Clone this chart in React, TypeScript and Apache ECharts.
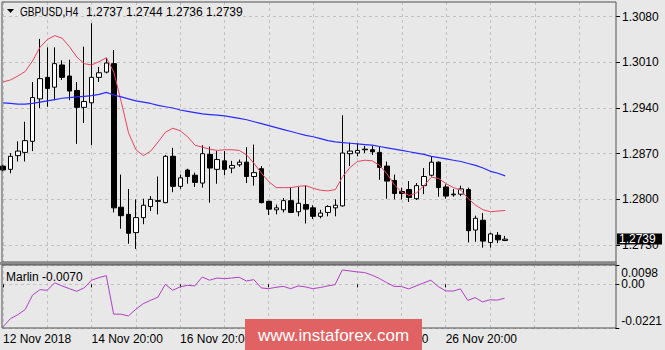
import React, { useEffect, useRef } from "react";
import * as echarts from "echarts";

const symbolName = "GBPUSD,H4";
const slotCount = 84; // visible bar slots incl. right shift
const xTickLabels = ["12 Nov 2018", "14 Nov 20:00", "16 Nov 20:00", "20 Nov 20:00", "22 Nov 20:00", "26 Nov 20:00"];
const labelEvery = 12;
const gridEvery = 6;

const opens = [1.2851, 1.2846, 1.2867, 1.2872, 1.2889, 1.2954, 1.2987, 1.2972, 1.3006, 1.2989, 1.2967, 1.2941, 1.2948, 1.2987, 1.2995, 1.3008, 1.2788, 1.2777, 1.2749, 1.2772, 1.2789, 1.2798, 1.2795, 1.2866, 1.2820, 1.2845, 1.2837, 1.2825, 1.2869, 1.2846, 1.2859, 1.2848, 1.2853, 1.2857, 1.2835, 1.2847, 1.2797, 1.2784, 1.2784, 1.2798, 1.2781, 1.2792, 1.2787, 1.2774, 1.2780, 1.2787, 1.2790, 1.2870, 1.2871, 1.2877, 1.2876, 1.2872, 1.2851, 1.2829, 1.2812, 1.2815, 1.2801, 1.2821, 1.2837, 1.2857, 1.2819, 1.2808, 1.2808, 1.2815, 1.2753, 1.2768, 1.2734, 1.2745, 1.2737];
const highs = [1.2853, 1.2871, 1.2889, 1.2919, 1.2980, 1.3046, 1.3033, 1.3033, 1.3013, 1.3014, 1.2980, 1.3034, 1.3070, 1.3003, 1.3017, 1.3029, 1.2838, 1.2816, 1.2800, 1.2801, 1.2805, 1.2835, 1.2868, 1.2879, 1.2838, 1.2847, 1.2841, 1.2883, 1.2881, 1.2874, 1.2874, 1.2859, 1.2861, 1.2880, 1.2884, 1.2851, 1.2798, 1.2792, 1.2802, 1.2819, 1.2819, 1.2821, 1.2791, 1.2784, 1.2791, 1.2800, 1.2929, 1.2887, 1.2886, 1.2882, 1.2882, 1.2881, 1.2858, 1.2838, 1.2818, 1.2828, 1.2825, 1.2848, 1.2865, 1.2858, 1.2823, 1.2816, 1.2821, 1.2818, 1.2775, 1.2779, 1.2749, 1.2750, 1.2744];
const lows = [1.2843, 1.2840, 1.2858, 1.2858, 1.2874, 1.2940, 1.2942, 1.2952, 1.2983, 1.2952, 1.2885, 1.2917, 1.2883, 1.2980, 1.2993, 1.2780, 1.2755, 1.2732, 1.2724, 1.2762, 1.2782, 1.2777, 1.2794, 1.2811, 1.2816, 1.2824, 1.2819, 1.2818, 1.2795, 1.2824, 1.2837, 1.2840, 1.2850, 1.2825, 1.2821, 1.2794, 1.2776, 1.2777, 1.2780, 1.2779, 1.2774, 1.2763, 1.2770, 1.2771, 1.2774, 1.2774, 1.2789, 1.2851, 1.2866, 1.2871, 1.2868, 1.2830, 1.2801, 1.2800, 1.2800, 1.2796, 1.2799, 1.2808, 1.2835, 1.2804, 1.2801, 1.2804, 1.2805, 1.2734, 1.2735, 1.2726, 1.2726, 1.2733, 1.2736];
const closes = [1.2845, 1.2866, 1.2874, 1.2890, 1.2956, 1.2985, 1.2970, 1.3008, 1.2987, 1.2966, 1.2941, 1.2950, 1.2987, 1.2994, 1.3009, 1.2787, 1.2775, 1.2748, 1.2772, 1.2791, 1.2800, 1.2797, 1.2866, 1.2820, 1.2833, 1.2835, 1.2826, 1.2870, 1.2848, 1.2861, 1.2846, 1.2852, 1.2857, 1.2835, 1.2841, 1.2795, 1.2785, 1.2787, 1.2798, 1.2780, 1.2794, 1.2785, 1.2774, 1.2779, 1.2789, 1.2791, 1.2871, 1.2874, 1.2875, 1.2876, 1.2873, 1.2849, 1.2828, 1.2809, 1.2809, 1.2803, 1.2821, 1.2835, 1.2857, 1.2818, 1.2805, 1.2807, 1.2816, 1.2752, 1.2771, 1.2736, 1.2747, 1.2738, 1.2739];

const maRed = [1.2980, 1.2983, 1.2989, 1.2996, 1.3012, 1.3033, 1.3045, 1.3051, 1.3047, 1.3034, 1.3018, 1.3008, 1.3006, 1.3011, 1.3017, 1.2995, 1.2950, 1.2902, 1.2876, 1.2867, 1.2874, 1.2888, 1.2903, 1.2909, 1.2905, 1.2896, 1.2883, 1.2880, 1.2877, 1.2875, 1.2876, 1.2876, 1.2875, 1.2868, 1.2855, 1.2840, 1.2827, 1.2818, 1.2818, 1.2818, 1.2820, 1.2821, 1.2817, 1.2814, 1.2813, 1.2815, 1.2835, 1.2849, 1.2858, 1.2860, 1.2859, 1.2852, 1.2839, 1.2822, 1.2811, 1.2806, 1.2810, 1.2821, 1.2834, 1.2832, 1.2824, 1.2818, 1.2814, 1.2801, 1.2791, 1.2784, 1.2781, 1.2782, 1.2783];
const maBlue = [1.2948, 1.2947, 1.2946, 1.2946, 1.2947, 1.2949, 1.2951, 1.2953, 1.2955, 1.2956, 1.2957, 1.2958, 1.2959, 1.2961, 1.2964, 1.2960, 1.2957, 1.2954, 1.2951, 1.2949, 1.2947, 1.2944, 1.2942, 1.2940, 1.2937, 1.2935, 1.2933, 1.2931, 1.2930, 1.2929, 1.2928, 1.2926, 1.2924, 1.2922, 1.2919, 1.2916, 1.2913, 1.2910, 1.2907, 1.2904, 1.2901, 1.2898, 1.2896, 1.2893, 1.2890, 1.2888, 1.2887, 1.2886, 1.2885, 1.2884, 1.2883, 1.2881, 1.2879, 1.2877, 1.2875, 1.2873, 1.2871, 1.2869, 1.2866, 1.2864, 1.2862, 1.2860, 1.2858, 1.2855, 1.2852, 1.2848, 1.2843, 1.2840, 1.2836];
const marlin = [-0.0215, -0.0174, -0.0154, -0.0128, -0.0055, -0.0027, -0.0030, 0.0008, -0.0008, -0.0022, -0.0035, -0.0018, 0.0021, 0.0034, 0.0044, -0.0151, -0.0151, -0.0160, -0.0126, -0.0098, -0.0081, -0.0065, 0.0000, -0.0030, -0.0013, -0.0005, -0.0008, 0.0037, 0.0021, 0.0032, 0.0029, 0.0032, 0.0036, 0.0017, 0.0024, -0.0018, -0.0022, -0.0015, -0.0010, -0.0022, -0.0008, -0.0013, -0.0022, -0.0016, -0.0008, -0.0002, 0.0073, 0.0068, 0.0063, 0.0060, 0.0047, 0.0030, 0.0009, -0.0010, -0.0011, -0.0023, -0.0008, 0.0007, 0.0021, -0.0011, -0.0033, -0.0034, -0.0023, -0.0081, -0.0067, -0.0089, -0.0078, -0.0080, -0.0070];

const priceTicks = [1.2730, 1.2800, 1.2870, 1.2940, 1.3010, 1.3080];
const priceMin = 1.2704;
const priceMax = 1.31025;
const marlinMax = 0.0098;
const marlinMin = -0.0221;
const marlinTicks = [marlinMin, 0, marlinMax];
const marlinEdgeLabels = [marlinMin, marlinMax];
const marlinMidLabels = [0];

const FONT = "'Liberation Sans', Arial, sans-serif";
const BG = "#e8e8e8";
const GRID_COLOR = "#c2c2c2";

const categories: string[] = Array.from({ length: slotCount }, (_, i) =>
  i % labelEvery === 0 && i / labelEvery < xTickLabels.length ? xTickLabels[i / labelEvery] : ""
);

export default function App() {
  const ref = useRef<HTMLDivElement>(null);
  useEffect(() => {
    document.body.style.margin = "0";
    document.body.style.background = BG;
    if (!ref.current) return;
    const chart = echarts.init(ref.current, undefined, { renderer: "svg" });
    const last = closes.length - 1;
    const candleData = opens.map((o, i) => [o, closes[i], lows[i], highs[i]]);
    const splitX = {
      show: true,
      interval: (i: number) => i % gridEvery === 0,
      lineStyle: { color: GRID_COLOR, type: [3, 3] as any, width: 1 },
    };
    const titleParts = [
      { text: symbolName, x: 20, sx: 0.84 },
      { text: opens[last].toFixed(4), x: 86, sx: 1 },
      { text: highs[last].toFixed(4), x: 126, sx: 1 },
      { text: lows[last].toFixed(4), x: 166, sx: 1 },
      { text: closes[last].toFixed(4), x: 206, sx: 1 },
    ];
    const labelBase = { margin: 6, color: "#000", fontSize: 12, fontFamily: FONT };
    chart.setOption({
      animation: false,
      backgroundColor: BG,
      grid: [
        { left: 3, right: 49, top: 2, height: 260 },
        { left: 3, right: 49, top: 265, height: 63 },
      ],
      xAxis: [
        {
          type: "category",
          gridIndex: 0,
          data: categories,
          boundaryGap: false,
          axisLine: { show: false },
          axisTick: { show: false },
          axisLabel: { show: false },
          splitLine: splitX,
        },
        {
          type: "category",
          gridIndex: 1,
          data: categories,
          boundaryGap: false,
          axisLine: { show: false },
          axisTick: {
            show: true,
            interval: (i: number) => categories[i] !== "",
            length: 3,
            lineStyle: { color: "#000" },
          },
          axisLabel: {
            show: true,
            interval: (i: number) => categories[i] !== "",
            align: "left",
            margin: 5,
            color: "#000",
            fontSize: 12,
            fontFamily: FONT,
          },
          splitLine: splitX,
        },
      ],
      yAxis: [
        {
          type: "value",
          gridIndex: 0,
          position: "right",
          min: priceMin,
          max: priceMax,
          axisLine: { show: false },
          axisTick: { show: true, length: 4, customValues: priceTicks, lineStyle: { color: "#000" } },
          axisLabel: {
            ...labelBase,
            customValues: priceTicks,
            showMinLabel: true,
            showMaxLabel: true,
            formatter: (v: number) => v.toFixed(4),
          },
          splitLine: { show: true, lineStyle: { color: GRID_COLOR, type: [3, 3], width: 1 } },
        },
        {
          type: "value",
          gridIndex: 1,
          position: "right",
          min: marlinMin,
          max: marlinMax,
          axisLine: { show: false },
          axisTick: { show: true, length: 4, customValues: marlinTicks, lineStyle: { color: "#000" } },
          axisLabel: {
            ...labelBase,
            customValues: marlinMidLabels,
            formatter: (v: number) => v.toFixed(2),
          },
          splitLine: { show: true, lineStyle: { color: GRID_COLOR, type: [3, 3], width: 1 } },
        },
        {
          type: "value",
          gridIndex: 1,
          position: "right",
          offset: 0,
          min: marlinMin,
          max: marlinMax,
          axisLine: { show: false },
          axisTick: { show: false },
          splitLine: { show: false },
          axisLabel: {
            ...labelBase,
            customValues: marlinEdgeLabels,
            showMinLabel: true,
            showMaxLabel: true,
            formatter: (v: number) => (v > 0 ? "{t|" + v.toFixed(4) + "}" : "{b|" + v.toFixed(4) + "}"),
            rich: {
              t: { padding: [16, 0, 0, 0], fontSize: 12, color: "#000", fontFamily: FONT },
              b: { padding: [0, 0, 14, 0], fontSize: 12, color: "#000", fontFamily: FONT },
            },
          },
        },
      ],
      series: [
        {
          type: "candlestick",
          xAxisIndex: 0,
          yAxisIndex: 0,
          data: candleData,
          barWidth: 5,
          itemStyle: {
            color: "#ffffff",
            color0: "#000000",
            borderColor: "#000000",
            borderColor0: "#000000",
            borderWidth: 1,
          },
          markLine: {
            silent: true,
            symbol: ["none", "none"],
            data: [{ yAxis: closes[last] }],
            lineStyle: { color: "#bdbdbd", type: "solid", width: 1 },
            label: { show: false },
          },
          z: 3,
        },
        {
          type: "line",
          xAxisIndex: 0,
          yAxisIndex: 0,
          data: maRed,
          showSymbol: false,
          symbol: "none",
          lineStyle: { color: "#e8435f", width: 1 },
          z: 4,
        },
        {
          type: "line",
          xAxisIndex: 0,
          yAxisIndex: 0,
          data: maBlue,
          showSymbol: false,
          symbol: "none",
          lineStyle: { color: "#2b2bff", width: 1.2 },
          z: 4,
        },
        {
          type: "line",
          xAxisIndex: 1,
          yAxisIndex: 1,
          data: marlin,
          showSymbol: false,
          symbol: "none",
          lineStyle: { color: "#b040c4", width: 1 },
          z: 4,
        },
      ],
      graphic: [
        { id: "frameMain", type: "rect", z: 50, shape: { x: 2, y: 2, width: 614, height: 260 }, style: { fill: "none", stroke: "#505050", lineWidth: 1 } },
        { id: "sep", type: "rect", z: 50, shape: { x: 0, y: 262, width: 617, height: 3 }, style: { fill: "#8a8a8a" } },
        { id: "frameSub", type: "rect", z: 50, shape: { x: 2, y: 265, width: 614, height: 63 }, style: { fill: "none", stroke: "#505050", lineWidth: 1 } },
        { id: "tri", type: "polygon", z: 60, shape: { points: [[7, 9], [14, 9], [10.5, 13]] }, style: { fill: "#000" } },
        ...titleParts.map((p, k) => ({
          id: "title" + k,
          type: "text",
          z: 60,
          x: p.x,
          y: 12,
          scaleX: p.sx,
          style: { text: p.text, fill: "#000", fontSize: 12, fontFamily: FONT, verticalAlign: "middle" },
        })),
        {
          id: "marlinTitle",
          type: "text",
          z: 60,
          x: 6,
          y: 277,
          style: { text: "Marlin " + marlin[last].toFixed(4), fill: "#000", fontSize: 12, fontFamily: FONT, verticalAlign: "middle" },
        },
        { id: "wmRect", type: "rect", z: 100, shape: { x: 245, y: 319, width: 177, height: 31 }, style: { fill: "#e06262" } },
        {
          id: "wmText",
          type: "text",
          z: 101,
          x: 333.5,
          y: 335,
          style: { text: "www.instaforex.com", fill: "#ffffff", fontSize: 17, fontFamily: FONT, align: "center", verticalAlign: "middle" },
        },
      ],
    });
    const bidY = chart.convertToPixel({ yAxisIndex: 0 }, closes[last]) as number;
    chart.setOption({
      graphic: [
        { id: "bidRect", type: "rect", z: 70, shape: { x: 617, y: Math.round(bidY) - 5.5, width: 45, height: 11 }, style: { fill: "#000" } },
        {
          id: "bidText",
          type: "text",
          z: 71,
          x: 619,
          y: Math.round(bidY),
          style: { text: closes[last].toFixed(4), fill: "#fff", fontSize: 12, fontFamily: FONT, verticalAlign: "middle" },
        },
      ],
    });
    return () => chart.dispose();
  }, []);
  return <div ref={ref} style={{ width: 665, height: 350, background: BG }} />;
}
